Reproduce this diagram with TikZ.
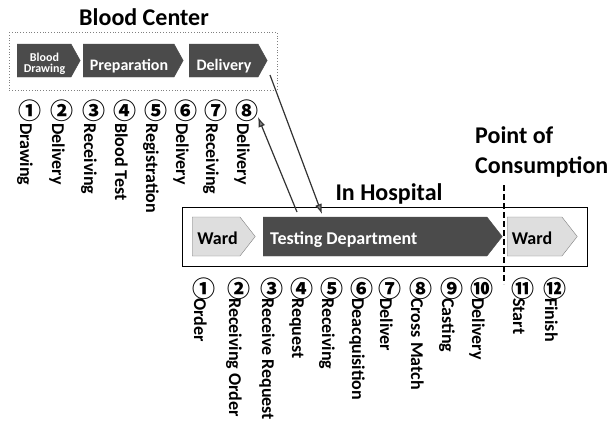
\documentclass[tikz,border=0pt]{standalone}
\usepackage{fontspec}
\setmainfont{Carlito}
\newfontfamily\circfont{Noto Sans CJK JP}
\usetikzlibrary{arrows.meta}
\usetikzlibrary{shapes.symbols}

\definecolor{darkfill}{HTML}{4B4B4B}
\definecolor{lightfill}{HTML}{DEDEDE}

\begin{document}
\begin{tikzpicture}[x=1pt,y=-1pt,every node/.style={inner sep=0pt},
    darkchev/.style={signal,signal to=east,signal pointer angle=122,fill=darkfill,draw=darkfill,minimum height=33pt,anchor=west},
    wardchev/.style={signal,signal to=east,signal pointer angle=104,fill=lightfill,draw=gray,minimum height=39pt,anchor=west},
    testchev/.style={wardchev,fill=darkfill,draw=darkfill},
    chevtext/.style={font=\bfseries\fontsize{16}{16}\selectfont,text=white,anchor=base},
    wardtext/.style={font=\bfseries\fontsize{18}{18}\selectfont,anchor=base},
    title/.style={font=\bfseries\fontsize{24}{30}\selectfont},
    stepnum/.style={font=\circfont\bfseries\fontsize{23}{23}\selectfont},
    stepword/.style={font=\bfseries\fontsize{18}{18}\selectfont,rotate=-90,anchor=base west},
    flow/.style={draw=black!80,line width=1.2pt,-{Latex[length=10pt,width=7pt,fill=black!50]}}]
    \useasboundingbox (0,0) rectangle (612,437);
    % blood center
    \node[title,anchor=base] (bc) at (144,25) {Blood Center};
    \node[draw=gray,dotted,line width=0.8pt,minimum width=268pt,minimum height=58pt,anchor=north west] (bcbox) at (9,32) {};
    \node[darkchev,minimum width=63pt] (drw) at (17,60.5) {};
    \node[darkchev,minimum width=100pt] (prep) at (83,60.5) {};
    \node[darkchev,minimum width=78pt] (dlv) at (189,60.5) {};
    \node[chevtext,font=\bfseries\fontsize{12}{11}\selectfont,align=center,anchor=center] (drw-t) at (44.5,64) {Blood\\Drawing};
    \node[chevtext] (prep-t) at (129,70.5) {Preparation};
    \node[chevtext] (dlv-t) at (224,70.5) {Delivery};
    \foreach \x/\n/\w [count=\i] in {30/①/Drawing,62/②/Delivery,94/③/Receiving,125/④/Blood Test,
        156/⑤/Registration,186/⑥/Delivery,216/⑦/Receiving,247/⑧/Delivery}{
        \node[stepnum] (bcn\i) at (\x,111) {\n};
        \node[stepword] (bcw\i) at (\x-10,123) {\w};
    }
    % hospital
    \node[title,anchor=base] (hp) at (389,200) {In Hospital};
    \node[title,align=left,anchor=base west] (poc) at (475,173) {Point of\\Consumption};
    \node[draw,line width=1.3pt,minimum width=405pt,minimum height=59pt,anchor=north west] (hbox) at (182,207) {};
    \node[wardchev,minimum width=63pt] (ward1) at (192,236.5) {};
    \node[testchev,minimum width=239pt] (test) at (263,236.5) {};
    \node[wardchev,minimum width=70pt] (ward2) at (507,236.5) {};
    \node[wardtext] (ward1-t) at (217.5,244) {Ward};
    \node[wardtext,text=white,anchor=base west] (test-t) at (270,244) {Testing Department};
    \node[wardtext] (ward2-t) at (532,244) {Ward};
    \foreach \x/\n/\w [count=\i] in {204/①/Order,239/②/Receiving Order,272/③/Receive Request,302/④/Request,
        332/⑤/Receiving,362/⑥/Deacquisition,390/⑦/Deliver,421/⑧/Cross Match,452/⑨/Casting,
        482/⑩/Delivery,523/⑪/Start,555/⑫/Finish}{
        \node[stepnum] (hpn\i) at (\x,289) {\n};
        \node[stepword] (hpw\i) at (\x-10,298) {\w};
    }
    % point of consumption
    \coordinate (poc-top) at (504,185);
    \coordinate (poc-bot) at (504,284);
    \draw[line width=2.2pt,dash pattern=on 6pt off 3pt] (poc-top) -- (poc-bot);
    % transfers
    \coordinate (dlv-out) at (270,75);
    \coordinate (hp-in) at (322,214);
    \coordinate (hp-out) at (297,212);
    \coordinate (bcn8-in) at (258,117);
    \draw[flow] (dlv-out) -- (hp-in);
    \draw[flow] (hp-out) -- (bcn8-in);
\end{tikzpicture}
\end{document}
